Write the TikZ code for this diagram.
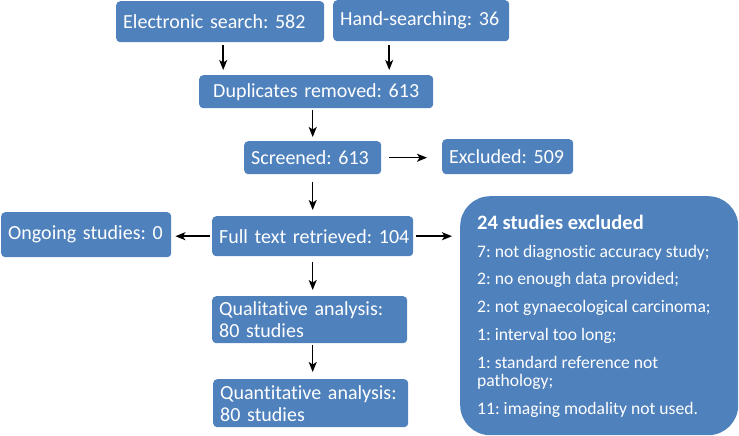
\documentclass[tikz,border=0pt]{standalone}
\usepackage{fontspec}
\setmainfont{Carlito}[Ligatures=NoCommon]
\frenchspacing
\usetikzlibrary{arrows.meta}
\definecolor{boxblue}{HTML}{4F81BD}
\begin{document}
\begin{tikzpicture}[x=1pt,y=-1pt,
  box/.style={fill=boxblue, text=white, rounded corners=4pt, inner xsep=7pt, inner ysep=0pt, align=left, font=\fontsize{20}{22}\selectfont, anchor=north west},
  txt/.style={anchor=base west, text=white, inner sep=0pt, align=left, font=\fontsize{17.6}{18}\selectfont},
  arr/.style={-{Stealth[length=10pt,width=8pt,inset=2.5pt]}, line width=1.5pt}]
\useasboundingbox (0,0) rectangle (739,436);
\node[box, text width=194pt, minimum height=41pt] (es) at (116,1) {Electronic search: 582};
\node[box, text width=162pt, minimum height=41pt] (hs) at (333,0) {Hand-searching: 36};
\node[box, text width=220pt, minimum height=33pt, align=center] (dup) at (199,75) {Duplicates removed: 613};
\node[box, text width=123pt, minimum height=33pt] (scr) at (244,141) {Screened: 613};
\node[box, text width=117pt, minimum height=35pt] (exc) at (442,139) {Excluded: 509};
\node[box, text width=191pt, inner xsep=5pt, minimum height=40pt] (full) at (212,216) {\mbox{\hspace{2pt}Full text retrieved: 104}};
\node[box, text width=156pt, minimum height=45pt] (og) at (1,212) {Ongoing studies: 0};
\node[box, text width=181pt, minimum height=47pt] (qual) at (212,296) {Qualitative analysis:\\80 studies};
\node[box, text width=181pt, minimum height=48pt] (quant) at (213,379) {Quantitative analysis:\\80 studies};
\node[fill=boxblue, rounded corners=30pt, minimum width=278pt, minimum height=239pt, anchor=north west, inner sep=0pt] (big) at (460,196) {};
\node[txt, font=\fontsize{20.5}{20}\selectfont\bfseries] (t0) at (477,229) {24 studies excluded};
\node[txt] (t1) at (477,257) {7: not diagnostic accuracy study;};
\node[txt] (t2) at (477,284) {2: no enough data provided;};
\node[txt] (t3) at (477,312) {2: not gynaecological carcinoma;};
\node[txt] (t4) at (477,340) {1: interval too long;};
\node[txt] (t5) at (477,386) {1: standard reference not\\pathology;};
\node[txt] (t6) at (477,414) {11: imaging modality not used.};
\draw[arr, shorten <=3pt, shorten >=5pt] ([xshift=3pt]es.south) -- ([xshift=3pt]es.south |- dup.north);
\draw[arr, shorten <=4pt, shorten >=5pt] ([xshift=-32pt]hs.south) -- ([xshift=-32pt]hs.south |- dup.north);
\draw[arr, shorten <=2pt, shorten >=4pt] (scr.north |- dup.south) -- (scr.north);
\draw[arr, shorten <=8pt, shorten >=15pt] (scr.east) -- (scr.east -| exc.west);
\draw[arr, shorten <=8pt, shorten >=6pt] (scr.south) -- (scr.south |- full.north);
\draw[arr, shorten <=2pt, shorten >=4pt] (full.west) -- (full.west -| og.east);
\draw[arr, shorten <=3pt, shorten >=8pt] (full.east) -- (full.east -| big.west);
\draw[arr, shorten <=6pt, shorten >=6pt] (full.south) -- (full.south |- qual.north);
\draw[arr, shorten <=2pt, shorten >=7pt] ([xshift=2pt]quant.north |- qual.south) -- ([xshift=2pt]quant.north);
\end{tikzpicture}
\end{document}
